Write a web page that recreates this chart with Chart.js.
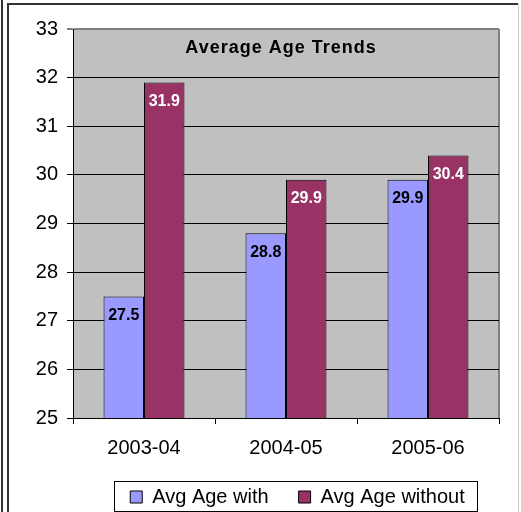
<!DOCTYPE html>
<html>
<head>
<meta charset="utf-8">
<script src="https://cdn.jsdelivr.net/npm/chart.js@4/dist/chart.umd.min.js"></script>
<style>
  html, body { margin: 0; padding: 0; background: #fff; }
  #wrap { position: relative; width: 521px; height: 512px; overflow: hidden; }
  .line { position: absolute; }
  #chart { position: absolute; left: 0; top: 0; }
</style>
</head>
<body>
<div id="wrap">
  <div class="line" style="left:1px;top:0;width:2px;height:512px;background:#333"></div>
  <div class="line" style="left:7px;top:3px;width:2px;height:509px;background:#333"></div>
  <div class="line" style="left:7px;top:3px;width:512px;height:2px;background:#333"></div>
  <div class="line" style="left:518px;top:3px;width:1px;height:509px;background:#ccc"></div>
  <canvas id="chart" width="521" height="512"></canvas>
</div>
<script>
// --------- Data ---------
const categories = ["2003-04", "2004-05", "2005-06"];
const ageWith = [27.5, 28.8, 29.9];
const ageWithout = [31.9, 29.9, 30.4];
const chartTitle = "Average Age Trends";

const FONT = "Arial, 'Liberation Sans', sans-serif";
const LEGEND_DX = 43;

// --------- Plugins ---------
const plotBackground = {
  id: "plotBackground",
  afterInit(chart) {
    // legend in the original sits right of centre, nudge it over
    const lg = chart.legend;
    if (lg && !lg._shifted) {
      const orig = lg.draw.bind(lg);
      lg.draw = function () {
        chart.ctx.save();
        chart.ctx.translate(LEGEND_DX, 0);
        orig();
        chart.ctx.restore();
      };
      lg._shifted = true;
    }
  },
  beforeDraw(chart) {
    const { ctx, chartArea: a } = chart;
    ctx.save();
    ctx.fillStyle = "#C0C0C0";
    ctx.fillRect(a.left, a.top, a.right - a.left, a.bottom - a.top);
    ctx.strokeStyle = "#808080";
    ctx.lineWidth = 2;
    ctx.beginPath();
    ctx.moveTo(a.right, a.top);
    ctx.lineTo(a.right, a.bottom);
    ctx.stroke();
    ctx.restore();
  },
  afterDraw(chart) {
    const { ctx, chartArea: a } = chart;
    ctx.save();
    ctx.fillStyle = "#000";
    ctx.font = "bold 18px " + FONT;
    ctx.letterSpacing = "1px";
    ctx.textAlign = "center";
    ctx.textBaseline = "middle";
    ctx.fillText(chartTitle, 281, a.top + 19);
    ctx.letterSpacing = "0px";

    // frame around legend
    const lg = chart.legend;
    if (lg && lg.legendHitBoxes && lg.legendHitBoxes.length) {
      const boxes = lg.legendHitBoxes;
      const x0 = boxes[0].left + LEGEND_DX - 16;
      const last = boxes[boxes.length - 1];
      const x1 = last.left + last.width + LEGEND_DX + 12;
      ctx.strokeStyle = "#000";
      ctx.lineWidth = 1;
      ctx.strokeRect(Math.round(x0) + 0.5, 481.5, Math.round(x1 - x0), 30);
    }
    ctx.restore();
  }
};

const barLabels = {
  id: "barLabels",
  afterDatasetsDraw(chart) {
    const { ctx } = chart;
    ctx.save();
    ctx.font = "bold 16px " + FONT;
    ctx.textAlign = "center";
    ctx.textBaseline = "middle";
    chart.data.datasets.forEach((ds, i) => {
      const meta = chart.getDatasetMeta(i);
      ctx.fillStyle = i === 0 ? "#000" : "#fff";
      meta.data.forEach((bar, j) => {
        ctx.fillText(ds.data[j].toFixed(1), bar.x, bar.y + 19);
      });
    });
    ctx.restore();
  }
};

// --------- Chart ---------
new Chart(document.getElementById("chart"), {
  type: "bar",
  data: {
    labels: categories,
    datasets: [
      {
        label: "Avg Age with",
        data: ageWith,
        backgroundColor: "#9999FF",
        borderColor: "#000",
        borderWidth: 1,
        borderSkipped: false
      },
      {
        label: "Avg Age without",
        data: ageWithout,
        backgroundColor: "#993366",
        borderColor: "#000",
        borderWidth: 1,
        borderSkipped: false
      }
    ]
  },
  options: {
    responsive: false,
    animation: false,
    devicePixelRatio: 1,
    layout: { padding: { top: 29, right: 22, left: 10, bottom: 0 } },
    datasets: { bar: { categoryPercentage: 0.57, barPercentage: 1 } },
    plugins: {
      title: { display: false },
      tooltip: { enabled: false },
      legend: {
        position: "bottom",
        maxHeight: 55,
        labels: {
          color: "#000",
          font: { family: FONT, size: 20 },
          boxWidth: 12,
          boxHeight: 12,
          padding: 30,
          generateLabels(chart) {
            return chart.data.datasets.map((ds, i) => ({
              text: ds.label,
              fillStyle: ds.backgroundColor,
              strokeStyle: "#000",
              lineWidth: 1,
              datasetIndex: i
            }));
          }
        }
      }
    },
    scales: {
      x: {
        grid: {
          drawOnChartArea: false,
          color: "#000",
          tickLength: 6
        },
        border: { color: "#000", width: 1 },
        ticks: {
          color: "#000",
          font: { family: FONT, size: 20 },
          padding: 12
        },
        afterFit(scale) { scale.height = 39; }
      },
      y: {
        min: 25,
        max: 33,
        ticks: {
          stepSize: 1,
          color: "#000",
          padding: 9,
          font: { family: FONT, size: 20 }
        },
        grid: {
          color: (c) => (c.tick && c.tick.value === 33 ? "#808080" : "#000"),
          lineWidth: (c) => (c.tick && c.tick.value === 33 ? 2 : 1),
          tickLength: 6
        },
        border: { color: "#000", width: 1 },
        afterFit(scale) { scale.width = 63; }
      }
    }
  },
  plugins: [plotBackground, barLabels]
});
</script>
</body>
</html>
